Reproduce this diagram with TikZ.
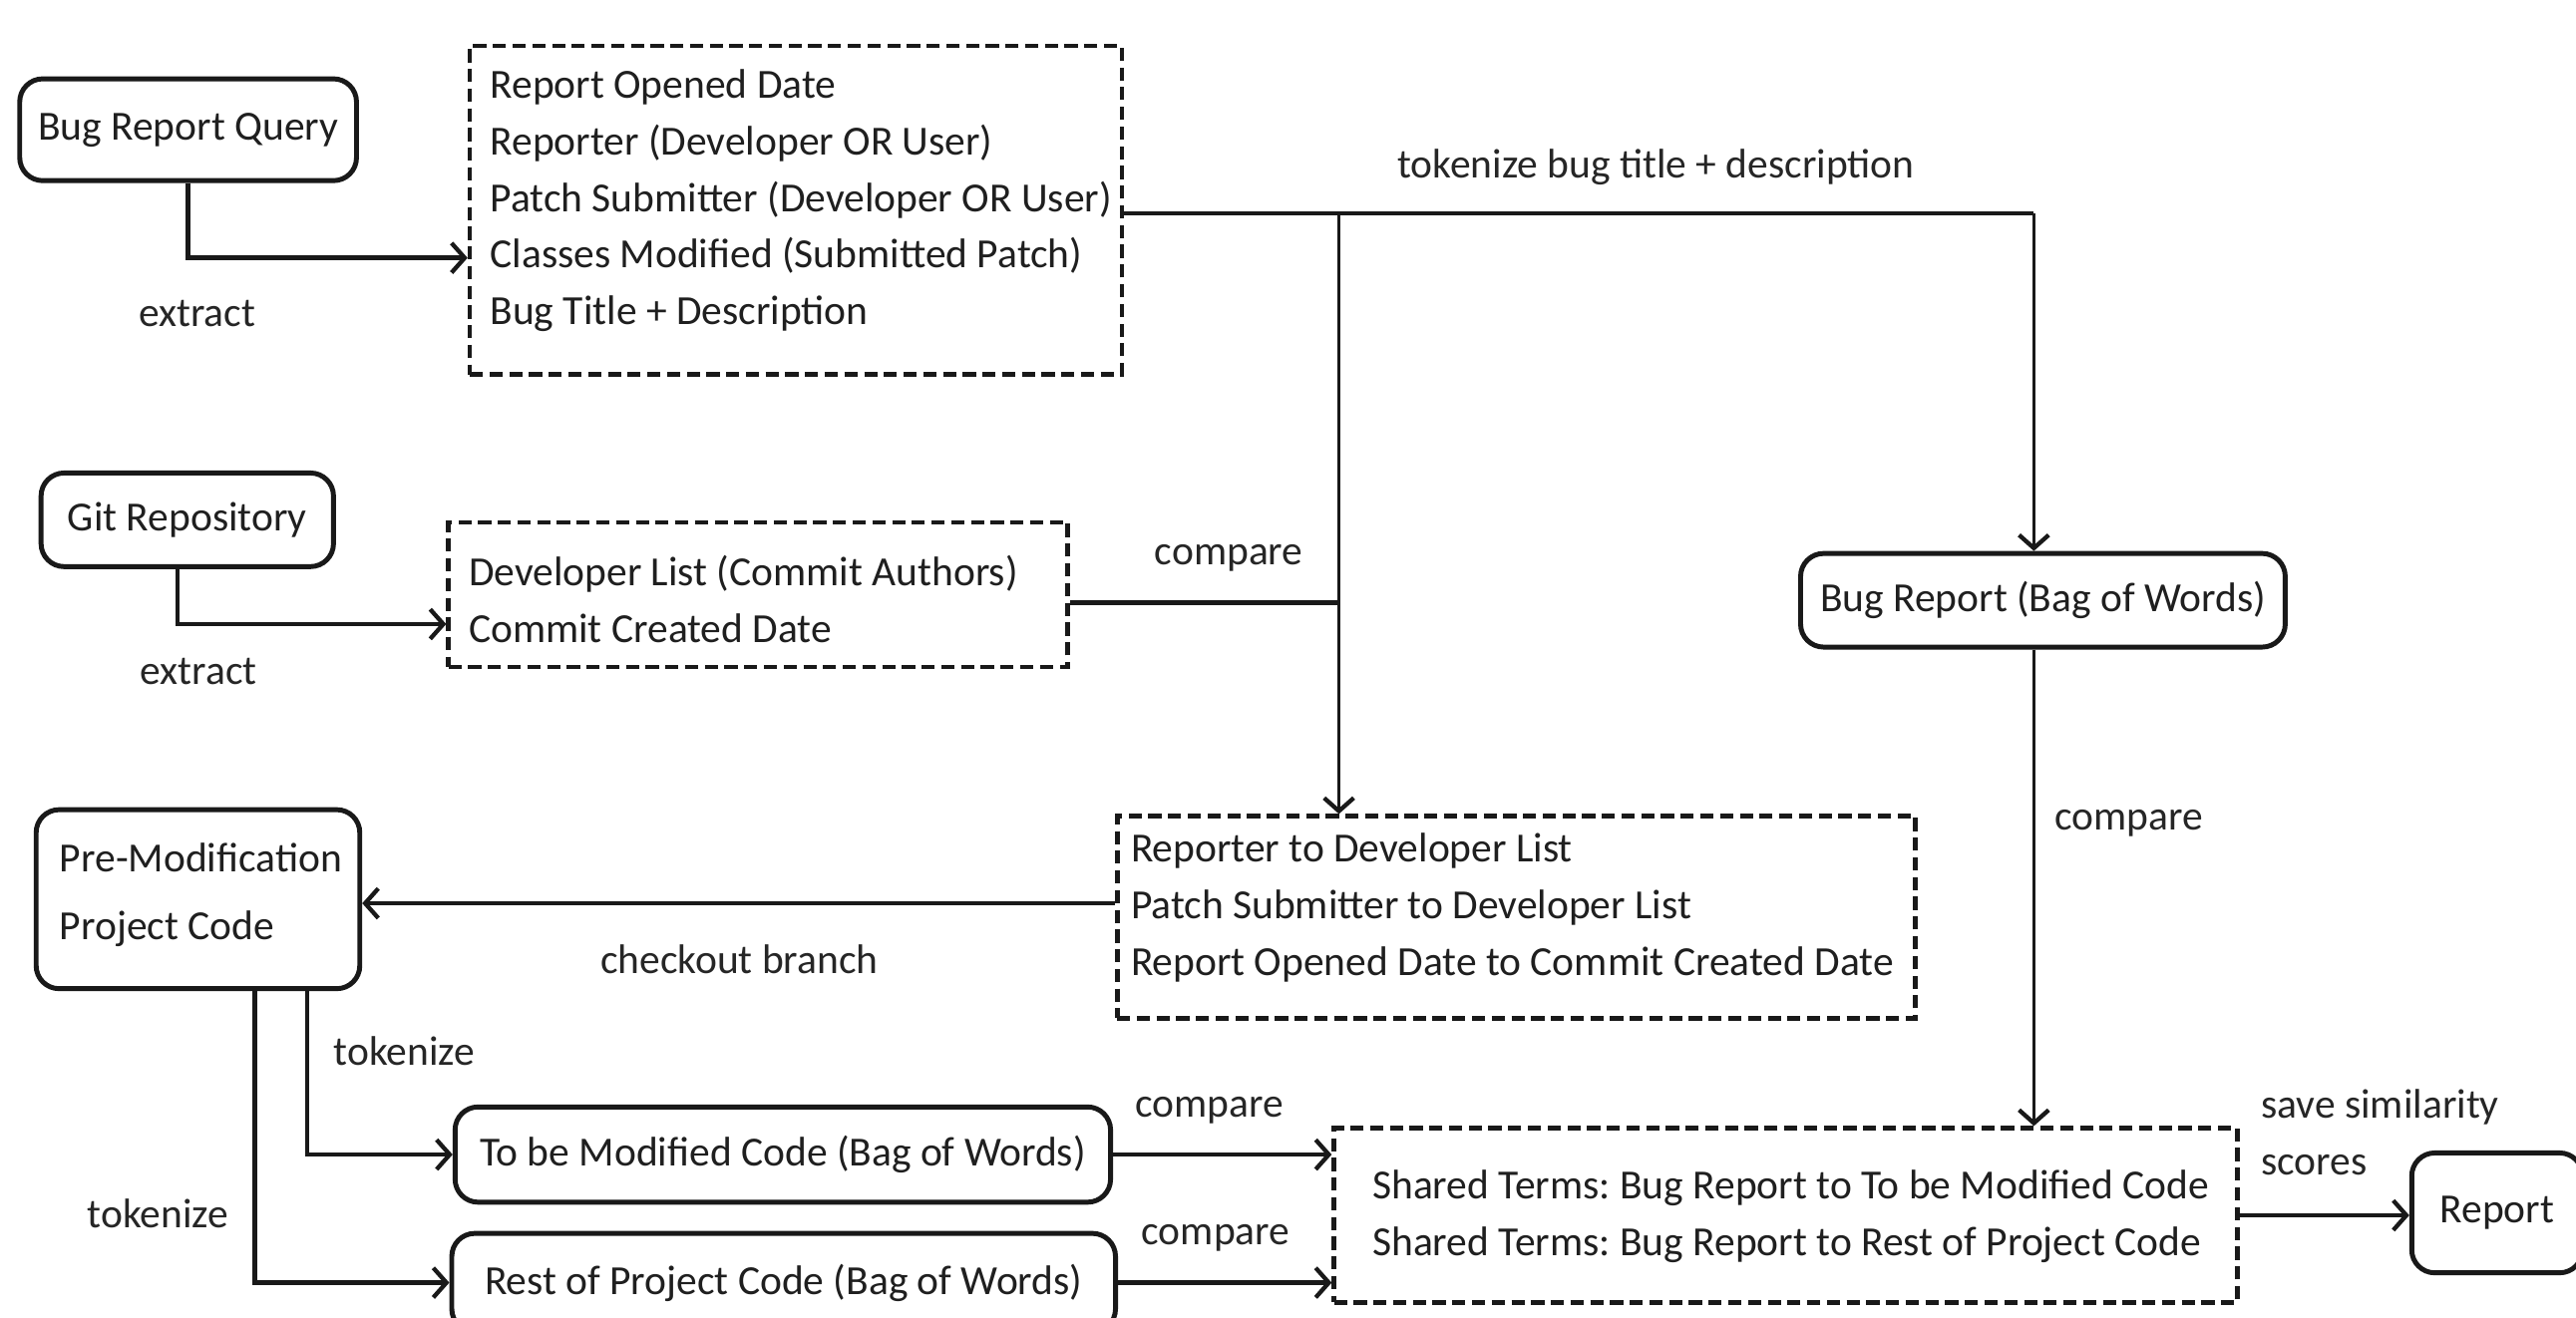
\documentclass[tikz,border=0pt]{standalone}
\usepackage{fontspec}
\setmainfont{Carlito}
\usetikzlibrary{arrows.meta}
\frenchspacing
\tikzset{
  rbox/.style={draw=black!90, line width=1.5pt, rounded corners=7pt, inner sep=0pt, align=center},
  dbox/.style={draw=black!90, line width=1.4pt, dash pattern=on 4pt off 2pt, inner sep=0pt},
  btext/.style={anchor=north west, inner sep=0pt, align=left},
  lbl/.style={inner sep=0pt, text=black!85},
  conn/.style={line width=1.35pt, draw=black!90},
  arr/.style={conn, -{Straight Barb[length=4pt,width=9pt,line width=1.3pt]}},
}
\begin{document}
\begin{tikzpicture}[x=0.5pt, y=-0.5pt, font=\fontsize{12.6pt}{17.2pt}\selectfont, text=black!88]
\useasboundingbox[fill=white] (0,0) rectangle (1568,802);

% rounded boxes
\node[rbox, minimum width=102.5pt, minimum height=31pt] (brq) at (114.5,79) {Bug Report Query};
\node[rbox, minimum width=89pt, minimum height=28.5pt] (git) at (114,316.5) {Git Repository};
\node[rbox, minimum width=147.5pt, minimum height=28.5pt] (brbow) at (1243.5,365.5) {Bug Report (Bag of Words)};
\node[rbox, minimum width=98.5pt, minimum height=54.5pt] (premod) at (120.5,547.5) {};
\node[btext] (premodt) at (36,513) {Pre-Modification\\[3.5pt]Project Code};
\node[rbox, minimum width=199.5pt, minimum height=29pt] (tbm) at (476.5,703) {To be Modified Code (Bag of Words)};
\node[rbox, minimum width=202pt, minimum height=30pt] (rest) at (477,781) {Rest of Project Code (Bag of Words)};
\node[rbox, minimum width=52pt, minimum height=36.5pt] (report) at (1520,738.5) {Report};

% dashed boxes
\node[dbox, minimum width=198.5pt, minimum height=100pt] (box1) at (484.5,128) {};
\node[btext] (box1t) at (298,42) {Report Opened Date\\Reporter (Developer OR User)\\Patch Submitter (Developer OR User)\\Classes Modified (Submitted Patch)\\Bug Title + Description};
\node[dbox, minimum width=188.5pt, minimum height=44pt] (box2) at (461.5,362) {};
\node[btext] (box2t) at (285,338) {Developer List (Commit Authors)\\Commit Created Date};
\node[dbox, minimum width=243pt, minimum height=61.5pt] (box3) at (923,558.5) {};
\node[btext] (box3t) at (688,507) {Reporter to Developer List\\Patch Submitter to Developer List\\Report Opened Date to Commit Created Date};
\node[dbox, minimum width=275pt, minimum height=53pt] (box4) at (1087,740) {};
\node[btext] (box4t) at (835,712) {Shared Terms: Bug Report to To be Modified Code\\Shared Terms: Bug Report to Rest of Project Code};

% helper coordinates
\coordinate (c1) at (0,157);
\coordinate (c2) at (0,380);
\coordinate (j1) at (815,130);
\coordinate (j2) at (1238,130);

% connectors
\draw[arr] (brq.south) |- (box1.west |- c1);
\draw[arr] ([xshift=-3pt]git.south) |- (box2.west |- c2);
\draw[conn] (box1.east |- j1) -- (j2);
\draw[arr, line width=1.1pt] (j2) -- (j2 |- brbow.north);
\draw[arr, line width=1.1pt] (j1) -- (j1 |- box3.north);
\draw[conn] (box2.east |- 0,367) -- (j1 |- 0,367);
\draw[arr] (box3.west |- 0,550) -- (premod.east |- 0,550);
\draw[arr] ([xshift=33.25pt]premod.south) |- (tbm.west);
\draw[arr] ([xshift=17.25pt]premod.south) |- (rest.west);
\draw[arr] (tbm.east) -- (tbm.east -| box4.west);
\draw[arr] (rest.east) -- (rest.east -| box4.west);
\draw[arr, line width=1.1pt] (j2 |- brbow.south) -- (j2 |- box4.north);
\draw[arr] (box4.east) -- (report.west |- box4.east);

% labels
\node[lbl] (l1) at (120,191) {extract};
\node[lbl] (l2) at (1008,102) {tokenize bug title + description};
\node[lbl] (l3) at (121,409) {extract};
\node[lbl] (l4) at (748,340) {compare};
\node[lbl] (l5) at (450,584) {checkout branch};
\node[lbl] (l6) at (1296,501) {compare};
\node[lbl] (l7) at (246,640) {tokenize};
\node[lbl] (l8) at (96,739) {tokenize};
\node[lbl] (l9) at (736,676) {compare};
\node[lbl] (l10) at (740,754) {compare};
\node[lbl, btext] (l11) at (1376,663) {save similarity\\scores};
\end{tikzpicture}
\end{document}
